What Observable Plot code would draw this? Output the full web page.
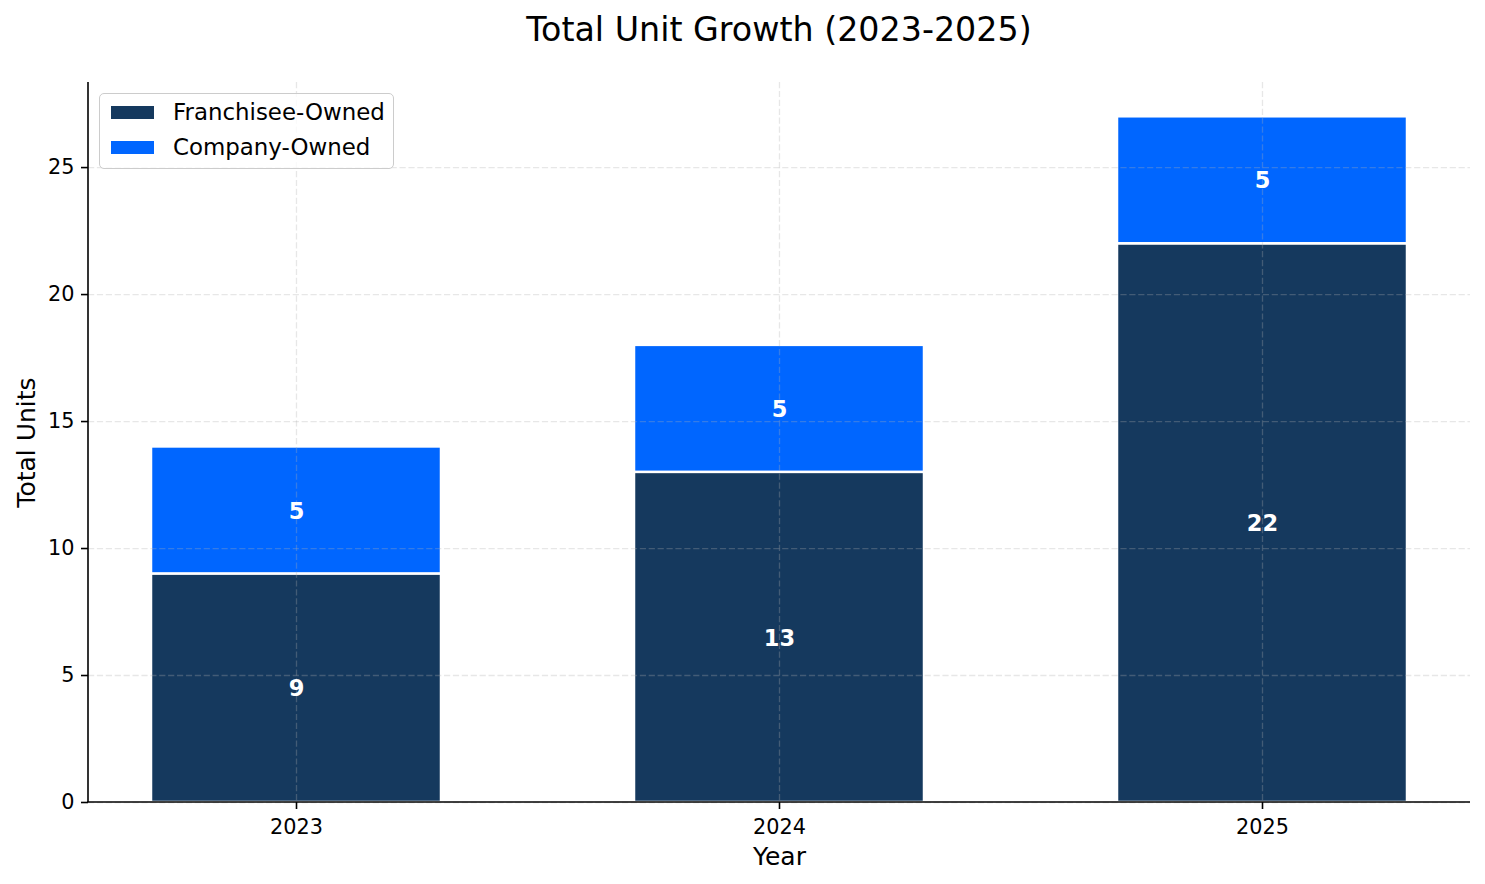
<!DOCTYPE html>
<html>
<head>
<meta charset="utf-8">
<script src="https://cdn.jsdelivr.net/npm/d3@7"></script>
<script src="https://cdn.jsdelivr.net/npm/@observablehq/plot@0.6"></script>
<style>
  body { margin: 0; background: #fff; font-family: "DejaVu Sans", sans-serif; color: #000; }
  #wrap { position: relative; width: 1485px; height: 884px; overflow: hidden; }
  #title { height: 62px; box-sizing: border-box; padding: 13px 15px 0 88px; text-align: center;
           font-size: 33.3px; line-height: 33px; white-space: nowrap; }
  #legend { position: absolute; left: 99px; top: 93px; width: 295px; height: 76px; box-sizing: border-box;
            border: 1px solid #cccccc; border-radius: 5px; background: rgba(255,255,255,0.8); }
  .sw { position: absolute; left: 11px; width: 43px; height: 13px; }
  .lt { position: absolute; left: 73px; font-size: 22.9px; line-height: 22.9px; white-space: nowrap; }
</style>
</head>
<body>
<div id="wrap">
  <div id="title"></div>
  <div id="chart"></div>
  <div id="legend"></div>
</div>
<script>
const titleText = "Total Unit Growth (2023-2025)";
const xLabel = "Year";
const yLabel = "Total Units";
const years = ["2023", "2024", "2025"];
const franchiseeOwned = [9, 13, 22];
const companyOwned = [5, 5, 5];
const seriesNames = ["Franchisee-Owned", "Company-Owned"];
const seriesColors = ["#15395E", "#0066FF"];
const yTicks = [0, 5, 10, 15, 20, 25];

document.getElementById("title").textContent = titleText;

// build stacked rows
const rows = [];
years.forEach((yr, i) => {
  rows.push({year: yr, series: seriesNames[0], y1: 0, y2: franchiseeOwned[i], value: franchiseeOwned[i]});
  rows.push({year: yr, series: seriesNames[1], y1: franchiseeOwned[i], y2: franchiseeOwned[i] + companyOwned[i], value: companyOwned[i]});
});
const maxTotal = d3.max(years, (y, i) => franchiseeOwned[i] + companyOwned[i]);

const gridStyle = {stroke: "#b0b0b0", strokeOpacity: 0.3, strokeWidth: 1.3, strokeDasharray: "6.2,2.7"};

const spines = (index, scales, values, dims) => {
  const g = d3.create("svg:g");
  const x0 = dims.marginLeft, x1 = dims.width - dims.marginRight;
  const y0 = dims.marginTop, y1 = dims.height - dims.marginBottom;
  g.append("line").attr("x1", x0).attr("x2", x0).attr("y1", y0).attr("y2", y1)
    .attr("stroke", "black").attr("stroke-width", 1.6);
  g.append("line").attr("x1", x0 - 0.8).attr("x2", x1).attr("y1", y1).attr("y2", y1)
    .attr("stroke", "black").attr("stroke-width", 1.6);
  return g.node();
};

const chart = Plot.plot({
  width: 1485,
  height: 822,
  marginTop: 20,
  marginBottom: 82,
  marginLeft: 88,
  marginRight: 15,
  style: {fontFamily: "DejaVu Sans, sans-serif", fontSize: "20.8px", color: "black", background: "white", overflow: "visible"},
  x: {domain: years, paddingInner: 0.4, paddingOuter: 0.13, label: null},
  y: {domain: [0, maxTotal * 1.05], label: null},
  color: {domain: seriesNames, range: seriesColors},
  marks: [
    Plot.barY(rows, {x: "year", y1: "y1", y2: "y2", fill: "series", stroke: "white", strokeWidth: 2.5}),
    Plot.gridY({ticks: yTicks, ...gridStyle}),
    Plot.gridX({...gridStyle}),
    Plot.text(rows, {x: "year", y: d => (d.y1 + d.y2) / 2, text: d => String(d.value),
      fill: "white", fontWeight: "bold", fontSize: 22.5, lineAnchor: "middle", dy: 1}),
    Plot.axisY({ticks: yTicks, tickSize: 7, tickPadding: 7, label: null, strokeWidth: 1.6, fontSize: 20.8}),
    Plot.axisX({tickSize: 7, tickPadding: 10, label: null, strokeWidth: 1.6, fontSize: 20.8}),
    spines,
    Plot.text([xLabel], {frameAnchor: "bottom", dy: 54.5, text: d => d, fontSize: 25, lineAnchor: "middle", textAnchor: "middle"}),
    Plot.text([yLabel], {frameAnchor: "left", dx: -62, rotate: -90, text: d => d, fontSize: 25, lineAnchor: "middle", textAnchor: "middle"})
  ]
});
document.getElementById("chart").appendChild(chart);

// legend
const legend = document.getElementById("legend");
const swTops = [12, 47];
const txTops = [7.3, 41.6];
seriesNames.forEach((name, i) => {
  const sw = document.createElement("div");
  sw.className = "sw";
  sw.style.top = swTops[i] + "px";
  sw.style.background = seriesColors[i];
  legend.appendChild(sw);
  const t = document.createElement("div");
  t.className = "lt";
  t.style.top = txTops[i] + "px";
  t.textContent = name;
  legend.appendChild(t);
});
</script>
</body>
</html>
